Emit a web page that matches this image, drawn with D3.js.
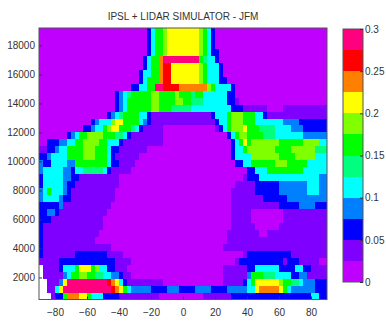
<!DOCTYPE html>
<html>
<head>
<meta charset="utf-8">
<script src="https://cdn.jsdelivr.net/npm/d3@7"></script>
<style>
  body { margin: 0; background: #fff; }
  svg { display: block; font-family: "Liberation Sans", Arial, sans-serif; }
</style>
</head>
<body>
<div id="chart"></div>
<script>
const title = 'IPSL + LIDAR SIMULATOR - JFM';
const latTicks = [-80, -60, -40, -20, 0, 20, 40, 60, 80];
const altTicks = [2000, 4000, 6000, 8000, 10000, 12000, 14000, 16000, 18000];
const cbTicks = [0, 0.05, 0.1, 0.15, 0.2, 0.25, 0.3];

// discrete colormap, one colour per 0.025 step (0 -> 0.3)
const levelColors = ['#bf00ff', '#7f00ff', '#0000ff', '#007fff', '#00ffff', '#00ff7f',
  '#00ff00', '#7fff00', '#ffff00', '#ff7f00', '#ff0000', '#ff007f'];

// grid: 2.5 deg latitude bins, 480 m altitude bins
const latStep = 2.5;
const altStep = 480;
const lats = d3.range(-90, 90, latStep);
const alts = d3.range(480, 19200, altStep);

// cloud fraction, one row per altitude bin (top first),
// run-length coded as level*count, level = 0.025 band index (a=10, b=11), '.' = no data
const rows = [
  '0*27,2,4,6*2,7,8*8,7,6,4,2,0*28',
  '0*27,2,4,6*2,7,8*8,7,6,4,2,0*28',
  '0*27,2,4,6*2,7,8*8,7,6,4,2,0*28',
  '0*27,2,4,6*2,7,8*8,7,6,4,2,2,0*27',
  '0*26,2,4,6,6,9,b*9,6,5,4,4,2,0*27',
  '0*26,2,4,6,6,9,a*2,8*7,7,6,4*3,2,0*26',
  '0*25,2,4,4,6,6,9,a*2,8*7,7,6,4*3,2,0*26',
  '0*25,2,4,6*3,9,a*2,8*7,7,6,4*3,2*2,0*25',
  '0*23,2*2,4*2,6*2,b*2,a*4,9*7,7,6,4*4,2,0*23',
  '0*19,2,3,4,5,6*5,7*2,6*4,7,6*3,5,6*2,4*6,2*2,0*23',
  '0*19,2,3,4,6*6,7*2,6*4,7*2,6*2,5*3,4*6,2*2,1,0*22',
  '0*19,2,3,4,6*6,7*2,6*3,5*5,4*10,2*3,1*6,0*4,1*11',
  '0*17,2,3,4,5,6*4,4*2,2,1*15,2,4*3,6,7*3,6*3,4*2,2,1*15',
  '0*13,2,3,4*3,7,8*2,6*4,4,3,2,1*16,2,4*2,6,7*3,6*3,4*7,3*4,2*7',
  '0*11,2*2,3,4*2,6,7,8*2,6*3,5,4,2,1*5,0*13,1,2,4,6,7*3,8,6*3,5*4,4*4,3*3,2*6',
  '0*7,2,3,4,6*2,7*4,6*3,5*2,4,2,1*8,0*16,2,4,6,7*2,6*4,5*3,4*7,3*6',
  '0*2,2*3,3*2,4*2,6*2,7*4,6*2,4*3,2,1*10,0*17,2,4,6,8,6,7*7,6*6,7*4,4*2',
  '1*2,2*2,3,4*2,6*4,7*3,6*3,4,2*2,1*7,0*21,2,4*2,6,7*7,6*4,7*6,5*3',
  '2*2,3,4*4,6*4,7*3,6*3,4,2,1*6,0*23,2,4*4,7*7,6*4,7*5,4*3',
  '3,2*2,4*4,3*2,6*8,4,2*2,1*4,0*25,2*2,4*2,6*6,7*3,6*5,4*5',
  '3,4*5,3*2,2,4*2,5*5,4,2,1*5,0*29,2*2,4*3,6*9,4*6',
  '2,4*5,3*2,2*2,1*10,0*31,1,2*3,4*15,3*2',
  '2,4*5,3,2*2,1*11,0*29,1*5,2*6,3*7,4*3,3*2',
  '3,4,6,4*3,3,2,1*11,0*29,1*6,2*6,3*7,4*3,3*2',
  '3,4*4,3,2*2,1*11,0*29,1*8,2*6,3*10',
  '2*5,3,1*12,0*30,1*12,2*5,3*4,2*3',
  '2*2,3*2,2,1*12,0*31,1*5,0*8,1*11',
  '2*3,1*13,0*32,1*5,0*8,1*11',
  '2,1*15,0*32,1*6,0*6,1*12',
  '2,1*14,0*32,1*8,0*2,1*15',
  '2,1*13,0*33,1*25',
  '2,1*17,0*28,1*26',
  '2,1*8,2*8,1*4,0*30,1,2*11,1*9',
  '1*5,2*14,1*4,0*26,1,2*11,1,2*3,1*5,0*2',
  '.,1*4,2,4*3,6,8*3,6,7,4*2,2*2,1*3,0*24,1*6,2*2,4*6,2*4,4*2,2*2,1*4',
  '.,1*5,3,4,6*2,7*2,6*2,5*2,4*2,3*2,2,1*2,0*23,1*6,3,6*3,5*3,4*4,2*2,3*2,1*5',
  '.*2,1*3,3,8,b*10,a,9,8,4,2,1*9,0*15,1*5,2,4,6,8*6,7,6*2,5*2,4,3*3,2*3',
  '.*2,1*2,4,8,b*12,a,9,8,6,4,3*5,2*4,3*3,2*4,3*4,2*4,3*5,4*2,8,9*5,8,6,4,3*3,3*3,2*3',
  '.*3,1,2*2,6,9*3,8*2,6,4*3,2*4,1*10,0*11,1*7,2*20,4*2,2*2'
];

const bandWidth = 0.025;

function decodeRow(str) {
  const out = [];
  str.split(',').forEach(tok => {
    const [code, n] = tok.split('*');
    const count = n ? +n : 1;
    for (let k = 0; k < count; k++) {
      out.push(code === '.' ? null : (parseInt(code, 16) + 0.5) * bandWidth);
    }
  });
  return out;
}

const cells = [];
rows.forEach((str, r) => {
  const alt = alts[alts.length - 1 - r];
  decodeRow(str).forEach((v, i) => {
    if (i < lats.length && v !== null) cells.push({ lat: lats[i], alt, value: v });
  });
});

const width = 386;
const height = 331;
const margin = { top: 28, right: 58, bottom: 31, left: 39 };

const svg = d3.select('#chart')
  .append('svg')
  .attr('width', width)
  .attr('height', height);

svg.append('rect').attr('width', width).attr('height', height).attr('fill', '#fff');

const x = d3.scaleLinear().domain([-90, 90]).range([margin.left, width - margin.right - 1]);
const y = d3.scaleLinear().domain([480, 19200]).range([height - margin.bottom - 0.5, margin.top]);
const color = d3.scaleQuantize().domain([0, 0.3]).range(levelColors);

// heatmap cells
svg.append('g')
  .attr('shape-rendering', 'crispEdges')
  .selectAll('rect')
  .data(cells)
  .join('rect')
  .attr('x', d => x(d.lat))
  .attr('y', d => y(d.alt + altStep))
  .attr('width', d => x(d.lat + latStep) - x(d.lat))
  .attr('height', d => y(d.alt) - y(d.alt + altStep))
  .attr('fill', d => color(d.value));

// axes
const xAxis = svg.append('g')
  .attr('transform', `translate(0,${y(480)})`)
  .call(d3.axisBottom(x).tickValues(latTicks).tickSize(-3).tickPadding(9));
const yAxis = svg.append('g')
  .attr('transform', `translate(${x(-90)},0)`)
  .call(d3.axisLeft(y).tickValues(altTicks).tickFormat(d3.format('d')).tickSize(-3).tickPadding(4));

[xAxis, yAxis].forEach(g => {
  g.select('.domain').remove();
  g.selectAll('line').attr('stroke', '#333');
  g.selectAll('text')
    .attr('fill', '#333')
    .style('font-size', '10px')
    .style('font-family', '"Liberation Sans", Arial, sans-serif');
});

svg.append('rect')
  .attr('x', x(-90))
  .attr('y', y(19200))
  .attr('width', x(90) - x(-90))
  .attr('height', y(480) - y(19200))
  .attr('fill', 'none')
  .attr('stroke', '#555')
  .attr('stroke-width', 1);

svg.append('text')
  .attr('x', (x(-90) + x(90)) / 2)
  .attr('y', 19.5)
  .attr('text-anchor', 'middle')
  .attr('fill', '#333')
  .style('font-size', '10px')
  .text(title);

// colour bar
const cbX = 343;
const cbW = 20;
const cb = d3.scaleLinear().domain([0, 0.3]).range([282, 29]);
const bands = d3.range(levelColors.length);

svg.append('g')
  .attr('shape-rendering', 'crispEdges')
  .selectAll('rect')
  .data(bands)
  .join('rect')
  .attr('x', cbX)
  .attr('y', k => cb((k + 1) * bandWidth))
  .attr('width', cbW)
  .attr('height', k => cb(k * bandWidth) - cb((k + 1) * bandWidth))
  .attr('fill', k => levelColors[k]);

svg.append('rect')
  .attr('x', cbX)
  .attr('y', cb(0.3))
  .attr('width', cbW)
  .attr('height', cb(0) - cb(0.3))
  .attr('fill', 'none')
  .attr('stroke', '#555');

const cbAxis = svg.append('g')
  .attr('transform', `translate(${cbX + cbW},0)`)
  .call(d3.axisRight(cb).tickValues(cbTicks).tickFormat(d3.format('~g')).tickSize(-3).tickPadding(2));
cbAxis.select('.domain').remove();
cbAxis.selectAll('line').attr('stroke', '#333');
cbAxis.selectAll('text')
  .attr('fill', '#333')
  .style('font-size', '10px')
  .style('font-family', '"Liberation Sans", Arial, sans-serif');
</script>
</body>
</html>
